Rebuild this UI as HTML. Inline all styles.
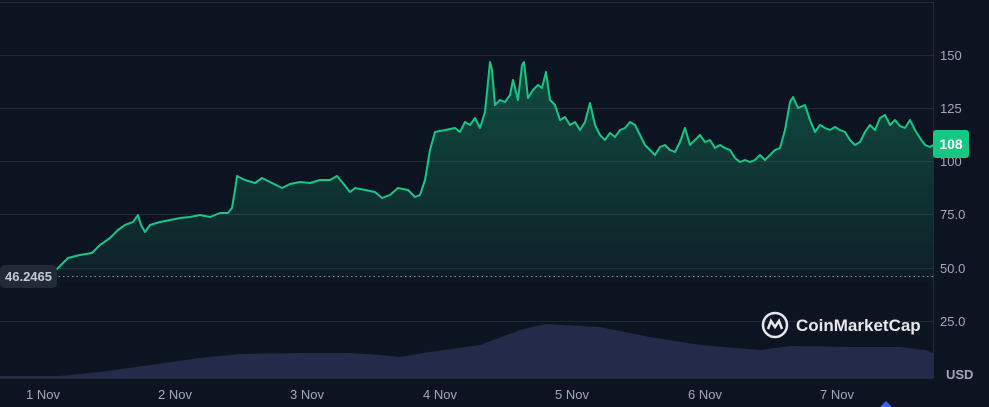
<!DOCTYPE html>
<html><head><style>
body{margin:0;background:#0d1421;}
svg{display:block;font-family:"Liberation Sans",sans-serif;}
</style></head><body>
<svg width="989" height="407" viewBox="0 0 989 407">
<defs>
<linearGradient id="g" x1="0" y1="60" x2="0" y2="378" gradientUnits="userSpaceOnUse">
<stop offset="0" stop-color="#16c784" stop-opacity="0.32"/>
<stop offset="0.65" stop-color="#16c784" stop-opacity="0.08"/>
<stop offset="0.7" stop-color="#16c784" stop-opacity="0"/>
</linearGradient>
</defs>
<rect width="989" height="407" fill="#0d1421"/>
<g stroke="#222a38" stroke-width="1">
<line x1="0" y1="2.5" x2="933" y2="2.5"/>
<line x1="0" y1="55.5" x2="933" y2="55.5"/>
<line x1="0" y1="108.5" x2="933" y2="108.5"/>
<line x1="0" y1="161.5" x2="933" y2="161.5"/>
<line x1="0" y1="214.5" x2="933" y2="214.5"/>
<line x1="0" y1="268.5" x2="933" y2="268.5"/>
<line x1="0" y1="321.5" x2="933" y2="321.5"/>
<line x1="0" y1="378.5" x2="933" y2="378.5"/>
<line x1="933.5" y1="2" x2="933.5" y2="378"/>
</g>
<polygon fill="#232a4a" points="0,376 60,376 100,372 150,365 200,358 240,354 300,353 350,353 380,355 400,357 430,352 480,345 520,330 545,324 600,327 650,337 700,345 760,350 790,346 850,347 900,347 925,350 933,353 933,378 0,378"/>
<line x1="0" y1="276.5" x2="933" y2="276.5" stroke="#8a93a6" stroke-dasharray="1.5,3"/>
<path fill="url(#g)" d="M56,270 L68,258 80,255 92,253 100,245 110,238 118,230 125,225 133,222 138,215 141,225 145,232 150,225 160,222 170,220 180,218 190,217 200,215 210,217 220,213 228,213 232,208 235,190 237,176 245,180 255,183 262,178 272,183 282,188 290,184 300,182 310,183 320,180 330,180 337,176 342,182 350,192 355,188 365,190 375,192 382,198 390,195 398,188 408,190 415,197 420,195 425,180 430,150 435,132 445,130 455,128 460,132 465,122 470,125 475,118 480,128 485,112 490,62 492,70 495,105 500,100 505,102 510,95 513,80 518,100 522,65 524,62 528,98 533,90 538,85 542,88 546,72 550,100 555,105 560,120 565,117 570,125 575,122 580,130 585,122 590,103 595,125 600,135 605,140 610,133 615,137 620,130 625,128 630,122 635,125 640,135 645,145 650,150 655,155 660,147 665,145 670,150 675,152 680,142 685,128 690,145 695,140 700,135 705,142 710,140 715,148 720,145 725,148 730,150 735,158 740,162 745,160 750,162 755,160 760,155 765,160 770,155 775,150 780,148 785,130 790,102 793,97 798,108 805,105 810,120 815,132 820,125 825,128 830,130 835,127 840,130 845,132 850,140 855,145 860,142 865,132 870,125 875,130 880,118 885,115 890,125 895,120 900,126 905,128 910,120 915,130 920,138 925,145 930,147 933,145 L933,378 L56,378 Z"/>
<polyline fill="none" stroke="#16c784" stroke-width="2" stroke-linejoin="round" points="56,270 68,258 80,255 92,253 100,245 110,238 118,230 125,225 133,222 138,215 141,225 145,232 150,225 160,222 170,220 180,218 190,217 200,215 210,217 220,213 228,213 232,208 235,190 237,176 245,180 255,183 262,178 272,183 282,188 290,184 300,182 310,183 320,180 330,180 337,176 342,182 350,192 355,188 365,190 375,192 382,198 390,195 398,188 408,190 415,197 420,195 425,180 430,150 435,132 445,130 455,128 460,132 465,122 470,125 475,118 480,128 485,112 490,62 492,70 495,105 500,100 505,102 510,95 513,80 518,100 522,65 524,62 528,98 533,90 538,85 542,88 546,72 550,100 555,105 560,120 565,117 570,125 575,122 580,130 585,122 590,103 595,125 600,135 605,140 610,133 615,137 620,130 625,128 630,122 635,125 640,135 645,145 650,150 655,155 660,147 665,145 670,150 675,152 680,142 685,128 690,145 695,140 700,135 705,142 710,140 715,148 720,145 725,148 730,150 735,158 740,162 745,160 750,162 755,160 760,155 765,160 770,155 775,150 780,148 785,130 790,102 793,97 798,108 805,105 810,120 815,132 820,125 825,128 830,130 835,127 840,130 845,132 850,140 855,145 860,142 865,132 870,125 875,130 880,118 885,115 890,125 895,120 900,126 905,128 910,120 915,130 920,138 925,145 930,147 933,145"/>
<g fill="#a1a7bb" font-size="13">
<text x="940" y="60">150</text>
<text x="940" y="113">125</text>
<text x="940" y="166">100</text>
<text x="940" y="219">75.0</text>
<text x="940" y="273">50.0</text>
<text x="940" y="326">25.0</text>
<text x="946" y="379" font-weight="bold">USD</text>
</g>
<g fill="#a1a7bb" font-size="13" text-anchor="middle">
<text x="43" y="399">1 Nov</text>
<text x="175" y="399">2 Nov</text>
<text x="307" y="399">3 Nov</text>
<text x="440" y="399">4 Nov</text>
<text x="572" y="399">5 Nov</text>
<text x="705" y="399">6 Nov</text>
<text x="837" y="399">7 Nov</text>
</g>
<rect x="0" y="265" width="57" height="23" rx="5" fill="#222a38"/>
<text x="5" y="281" fill="#c4c9d6" font-size="13" font-weight="bold">46.2465</text>
<rect x="933" y="130" width="36" height="28" rx="3" fill="#16c784"/>
<text x="951" y="149" fill="#fff" font-size="14" font-weight="bold" text-anchor="middle">108</text>
<g stroke="#e8e8ec" stroke-width="2.5" fill="none">
<circle cx="775" cy="325" r="12"/>
<path d="M768,329 L771,321 L775,327 L779,321 L782,329"/>
</g>
<text x="796" y="331" fill="#e8e8ec" font-size="17" font-weight="bold">CoinMarketCap</text>
<polygon points="880,407 886,401 892,407" fill="#3861fb"/>
</svg>
</body></html>
